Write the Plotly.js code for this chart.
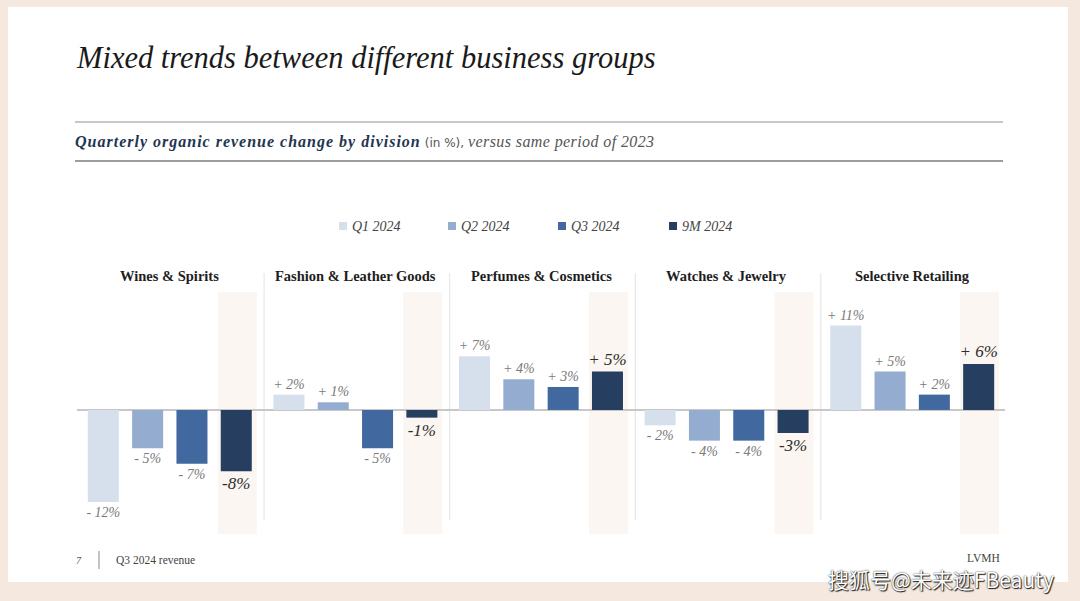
<!DOCTYPE html>
<html><head><meta charset="utf-8">
<script src="https://cdn.plot.ly/plotly-3.0.1.min.js"></script>
<style>html,body{margin:0;padding:0;background:#f5e9df;}#chart{width:1080px;height:601px;}</style>
</head><body><div id="chart"></div>
<script>
const divisions = ['Wines & Spirits','Fashion & Leather Goods','Perfumes & Cosmetics','Watches & Jewelry','Selective Retailing'];
const seriesNames = ['Q1 2024','Q2 2024','Q3 2024','9M 2024'];
const q1Values = [-12, 2, 7, -2, 11];
const q2Values = [-5, 1, 4, -4, 5];
const q3Values = [-7, -5, 3, -4, 2];
const nineMValues = [-8, -1, 5, -3, 6];
const seriesColors = ['#d5e0ec','#93acd0','#4268a0','#263e5f'];

const W=1080, H=601, ML=77, MR=75, MT=292, MB=67;
const PW=W-ML-MR, PH=H-MT-MB;
const px = p => (p-ML)/PW;
const py = p => (H-MB-p)/PH;
const SERIF = 'Liberation Serif, Times New Roman, serif';

const BARGAP = 0.045, BARGROUPGAP = 0.30;
const nSeries = 4;
const slot = (1-BARGAP)/nSeries;
const off9M = -(1-BARGAP)/2 + slot*3.5;

const qLabel = v => (v>0?'+ ':'- ')+Math.abs(v)+'%';
const mLabel = v => (v>0?'+ ':'-')+Math.abs(v)+'%';

const allSeries = [q1Values,q2Values,q3Values,nineMValues];
const traces = allSeries.map((vals,i)=>({
  type:'bar', name:seriesNames[i], x:divisions, y:vals,
  marker:{color:seriesColors[i], line:{width:0}},
  text: vals.map(i===3?mLabel:qLabel),
  textposition:'outside', constraintext:'none', cliponaxis:false,
  textfont: i===3 ? {family:SERIF, size:17, color:'#2e2e2e', style:'italic'}
                  : {family:SERIF, size:14, color:'#7a7a7a', style:'italic'},
  hoverinfo:'skip', showlegend:false
}));

const shapes = [];
shapes.push({type:'rect', xref:'paper', yref:'paper', x0:px(8), x1:px(1068), y0:py(582), y1:py(7), fillcolor:'#ffffff', line:{width:0}, layer:'below'});
shapes.push({type:'line', xref:'paper', yref:'paper', x0:px(75), x1:px(1003), y0:py(122), y1:py(122), line:{color:'#b4b4b4', width:1.5}});
shapes.push({type:'line', xref:'paper', yref:'paper', x0:px(75), x1:px(1003), y0:py(161), y1:py(161), line:{color:'#7c7c7c', width:1.5}});
divisions.forEach((d,i)=>{
  shapes.push({type:'rect', xref:'x', yref:'paper', x0:i+off9M-0.105+0.005, x1:i+off9M+0.105+0.005, y0:0, y1:1, fillcolor:'#fbf6f1', line:{width:0}, layer:'below'});
});
for(let i=0;i<divisions.length-1;i++){
  shapes.push({type:'line', xref:'x', yref:'paper', x0:i+0.508, x1:i+0.508, y0:py(520), y1:py(273), line:{color:'#e2e2e2', width:1}, layer:'below'});
}
shapes.push({type:'line', xref:'paper', yref:'paper', x0:px(99), x1:px(99), y0:py(569), y1:py(551), line:{color:'#8a8a8a', width:1}});
const legendX = [339, 448, 558, 669];
legendX.forEach((lx,i)=>{
  shapes.push({type:'rect', xref:'paper', yref:'paper', x0:px(lx), x1:px(lx+8), y0:py(230), y1:py(222), fillcolor:seriesColors[i], line:{width:0}});
});

const annotations = [];
annotations.push({xref:'paper', yref:'paper', x:px(74), y:py(58), xanchor:'left', yanchor:'middle', showarrow:false,
  text:'Mixed trends between different business groups', font:{family:SERIF, size:30.5, color:'#1a1a1a', style:'italic'}});
annotations.push({xref:'paper', yref:'paper', x:px(73), y:py(142), xanchor:'left', yanchor:'middle', showarrow:false,
  text:'<span style="color:#1f3552;letter-spacing:1px"><b>Quarterly organic revenue change by division</b></span> <span style="font-style:normal;font-family:DejaVu Sans, sans-serif;font-size:12px">(in %),</span> <span style="letter-spacing:0.4px">versus same period of 2023</span>',
  font:{family:SERIF, size:16, color:'#555555', style:'italic'}});
seriesNames.forEach((n,i)=>{
  annotations.push({xref:'paper', yref:'paper', x:px(legendX[i]+11), y:py(226), xanchor:'left', yanchor:'middle', showarrow:false,
    text:n, font:{family:SERIF, size:14, color:'#444444', style:'italic'}});
});
divisions.forEach((d,i)=>{
  annotations.push({xref:'x', yref:'paper', x:i, y:py(276), xanchor:'center', yanchor:'middle', showarrow:false,
    text:'<b>'+d+'</b>', font:{family:SERIF, size:14.5, color:'#1e1e1e'}});
});
annotations.push({xref:'paper', yref:'paper', x:px(74), y:py(560), xanchor:'left', yanchor:'middle', showarrow:false,
  text:'7', font:{family:SERIF, size:10, color:'#555555', style:'italic'}});
annotations.push({xref:'paper', yref:'paper', x:px(114), y:py(560), xanchor:'left', yanchor:'middle', showarrow:false,
  text:'Q3 2024 revenue', font:{family:SERIF, size:11.5, color:'#444444'}});
annotations.push({xref:'paper', yref:'paper', x:px(983), y:py(558), xanchor:'center', yanchor:'middle', showarrow:false,
  text:'LVMH', font:{family:SERIF, size:11.5, color:'#444444'}});
annotations.push({xref:'paper', yref:'paper', x:px(1056), y:py(579), xanchor:'right', yanchor:'middle', showarrow:false,
  text:'搜狐号@未来迹FBeauty', font:{family:'Noto Sans CJK SC, sans-serif', size:21, color:'#ffffff', shadow:'0px 0px 1.5px #000, 1px 1px 1px #222'}});

const layout = {
  width:W, height:H,
  margin:{l:ML, r:MR, t:MT, b:MB, pad:0},
  paper_bgcolor:'#f5e9df', plot_bgcolor:'rgba(0,0,0,0)',
  barmode:'group', bargap:BARGAP, bargroupgap:BARGROUPGAP,
  showlegend:false,
  xaxis:{type:'category', range:[-0.5, 4.5], showticklabels:false, showgrid:false, zeroline:false, showline:false, ticks:'', fixedrange:true},
  yaxis:{range:[-16.17, 15.38], showticklabels:false, showgrid:false, zeroline:true, zerolinecolor:'#c8c8c8', zerolinewidth:2, showline:false, ticks:'', fixedrange:true},
  shapes:shapes, annotations:annotations,
  font:{family:SERIF}
};
Plotly.newPlot('chart', traces, layout, {displayModeBar:false, staticPlot:true});
</script></body></html>
